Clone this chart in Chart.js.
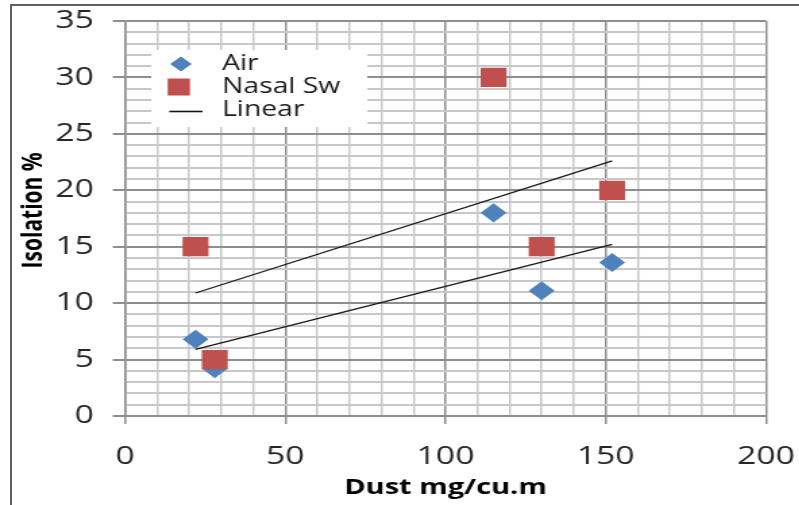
<!DOCTYPE html>
<html>
<head>
<meta charset="utf-8">
<script src="https://cdn.jsdelivr.net/npm/chart.js@4.4.1/dist/chart.umd.min.js"></script>
<style>
  html, body { margin: 0; padding: 0; background: #fff; overflow: hidden; }
  #frame { position: absolute; left: 10px; top: 4px; width: 789px; height: 501px;
           border-top: 2px solid #5f5f5f; border-left: 2px solid #5f5f5f; box-sizing: border-box; }
  /* the original picture is stretched sideways, so the canvas is too */
  #wrap { position: absolute; left: 0; top: 0; width: 592px; height: 505px;
          transform: scaleX(1.35); transform-origin: 0 0; }
</style>
</head>
<body>
<div id="frame"></div>
<div id="wrap"><canvas id="chart" width="592" height="505"></canvas></div>
<script>
// data
const dustAir = [22, 28, 115, 130, 152];
const airPct = [6.8, 4.2, 18, 11.1, 13.6];
const dustNasal = [22, 28, 115, 130, 152];
const nasalPct = [15, 5, 30, 15, 20];
// linear trend lines (end points)
const trendDust = [22, 152];
const trendAir = [5.9, 15.2];
const trendNasal = [10.9, 22.6];
// tick labels
const xTickLabels = [0, 50, 100, 150, 200];
const yTickLabels = [0, 5, 10, 15, 20, 25, 30, 35];
const seriesNames = ["Air", "Nasal Sw", "Linear"];

const BLUE = "#4f81bd";
const RED = "#c0504d";
const MINOR = "#c8c8c8";
const MAJOR = "#8e8e8e";

const toPoints = (xs, ys) => xs.map((x, i) => ({ x: x, y: ys[i] }));

// legend box drawn inside the plot, like the Excel one
const legendBox = {
  id: "legendBox",
  afterDraw(chart) {
    const c = chart.ctx;
    c.save();
    c.fillStyle = "#fff";
    c.fillRect(112, 50, 160, 77);

    // diamond
    c.fillStyle = BLUE;
    c.beginPath();
    c.moveTo(134 - 8, 64);
    c.lineTo(134, 64 - 7.5);
    c.lineTo(134 + 8, 64);
    c.lineTo(134, 64 + 7.5);
    c.closePath();
    c.fill();

    // square
    c.fillStyle = RED;
    c.fillRect(124.2, 78.5, 16.5, 17);

    // line
    c.strokeStyle = "#111";
    c.lineWidth = 1.6;
    c.beginPath();
    c.moveTo(125.4, 111.5);
    c.lineTo(150, 111.5);
    c.stroke();

    c.fillStyle = "#1a1a1a";
    c.font = '21px "Open Sans"';
    c.textBaseline = "middle";
    c.fillText(seriesNames[0], 164.4, 64);
    c.fillText(seriesNames[1], 164.4, 87);
    c.fillText(seriesNames[2], 164.4, 110.5);
    c.restore();
  }
};

// keep the plot area where the original has it
const noEdgePadding = (s) => {
  s.paddingLeft = 0;
  s.paddingRight = 0;
  s.paddingTop = 0;
  s.paddingBottom = 0;
};

const ctx = document.getElementById("chart").getContext("2d");
const chart = new Chart(ctx, {
  type: "scatter",
  data: {
    datasets: [
      {
        label: "Linear (Air)",
        type: "line",
        data: toPoints(trendDust, trendAir),
        borderColor: "#1a1a1a",
        borderWidth: 1.3,
        pointRadius: 0,
        fill: false,
        order: 0,
      },
      {
        label: "Linear (Nasal Sw)",
        type: "line",
        data: toPoints(trendDust, trendNasal),
        borderColor: "#1a1a1a",
        borderWidth: 1.3,
        pointRadius: 0,
        fill: false,
        order: 0,
      },
      {
        label: seriesNames[1],
        data: toPoints(dustNasal, nasalPct),
        pointStyle: "rect",
        pointRadius: 13.6,
        pointHoverRadius: 13.6,
        backgroundColor: RED,
        borderColor: RED,
        borderWidth: 0,
        order: 1,
      },
      {
        label: seriesNames[0],
        data: toPoints(dustAir, airPct),
        pointStyle: "rectRot",
        pointRadius: 9.6,
        pointHoverRadius: 9.6,
        backgroundColor: BLUE,
        borderColor: BLUE,
        borderWidth: 0,
        order: 2,
      },
    ],
  },
  options: {
    responsive: false,
    animation: false,
    devicePixelRatio: 1,
    layout: { padding: { left: 0, top: 21, right: 24.6, bottom: 0 } },
    plugins: {
      legend: { display: false },
      tooltip: { enabled: false },
    },
    scales: {
      x: {
        type: "linear",
        min: 0,
        max: 200,
        afterFit: (s) => { s.height = 89; noEdgePadding(s); },
        ticks: {
          stepSize: 10,
          autoSkip: false,
          maxRotation: 0,
          padding: 18,
          color: "#262626",
          font: { family: "Open Sans", size: 25 },
          callback: (v) => (xTickLabels.includes(v) ? v : ""),
        },
        grid: {
          lineWidth: 1.5,
          tickLength: 8,
          color: (c) => (c.tick && c.tick.value % 50 === 0 ? MAJOR : MINOR),
          tickColor: (c) => (c.tick && c.tick.value % 50 === 0 ? MAJOR : "rgba(0,0,0,0)"),
        },
        border: { color: MAJOR, width: 2 },
        title: {
          display: true,
          text: "Dust mg/cu.m",
          color: "#000",
          font: { family: "Open Sans", size: 21.5, weight: "bold" },
          padding: { top: 0, bottom: 4 },
        },
      },
      y: {
        min: 0,
        max: 35,
        afterFit: (s) => { s.width = 92.6; noEdgePadding(s); },
        ticks: {
          stepSize: 1,
          autoSkip: false,
          padding: 14,
          color: "#262626",
          font: { family: "Open Sans", size: 25 },
          callback: (v) => (yTickLabels.includes(v) ? v : ""),
        },
        grid: {
          lineWidth: 2,
          tickLength: 9,
          color: (c) => (c.tick && c.tick.value % 5 === 0 ? MAJOR : MINOR),
          tickColor: (c) => (c.tick && c.tick.value % 5 === 0 ? MAJOR : "rgba(0,0,0,0)"),
        },
        border: { color: MAJOR, width: 1.5 },
        title: {
          display: true,
          // leading spaces nudge the text up a little, as in the original
          text: "   Isolation %",
          color: "#000",
          font: { family: "Open Sans", size: 21, weight: "bold" },
          padding: { top: 12, bottom: 0 },
        },
      },
    },
  },
  plugins: [legendBox],
});
</script>
</body>
</html>
